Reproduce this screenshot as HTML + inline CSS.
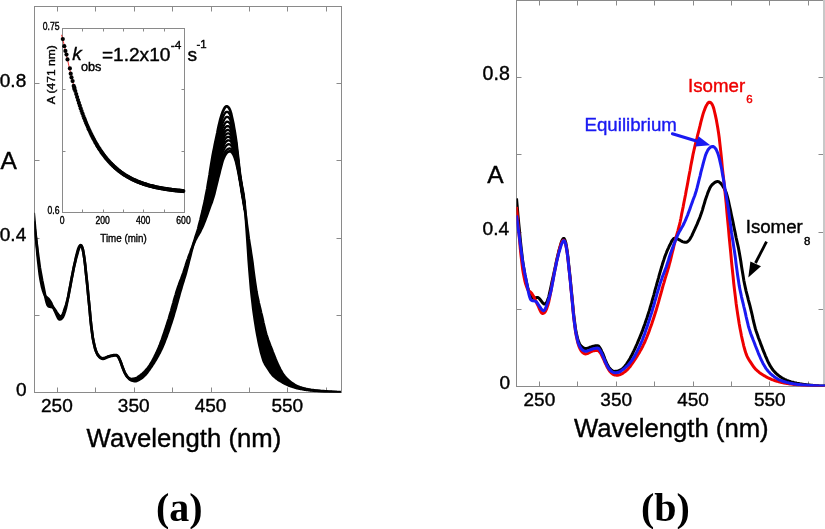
<!DOCTYPE html>
<html><head><meta charset="utf-8"><style>
html,body{margin:0;padding:0;background:#fff;width:825px;height:529px;overflow:hidden}
svg{display:block;will-change:transform}
text{font-family:"Liberation Sans",sans-serif;fill:#000;stroke:#000;stroke-width:0.4px}
.sf{font-family:"Liberation Serif",serif;font-weight:bold;stroke:none}
</style></head><body>
<svg width="825" height="529" viewBox="0 0 825 529">
<rect width="825" height="529" fill="#fff"/>
<rect x="34.5" y="6.5" width="307.0" height="386.0" fill="none" stroke="#8a8a8a" stroke-width="1"/>
<line x1="57.5" y1="392.5" x2="57.5" y2="387.5" stroke="#8a8a8a"/>
<line x1="57.5" y1="6.5" x2="57.5" y2="11.5" stroke="#8a8a8a"/>
<line x1="95.5" y1="392.5" x2="95.5" y2="387.5" stroke="#8a8a8a"/>
<line x1="95.5" y1="6.5" x2="95.5" y2="11.5" stroke="#8a8a8a"/>
<line x1="134.5" y1="392.5" x2="134.5" y2="387.5" stroke="#8a8a8a"/>
<line x1="134.5" y1="6.5" x2="134.5" y2="11.5" stroke="#8a8a8a"/>
<line x1="172.5" y1="392.5" x2="172.5" y2="387.5" stroke="#8a8a8a"/>
<line x1="172.5" y1="6.5" x2="172.5" y2="11.5" stroke="#8a8a8a"/>
<line x1="211.5" y1="392.5" x2="211.5" y2="387.5" stroke="#8a8a8a"/>
<line x1="211.5" y1="6.5" x2="211.5" y2="11.5" stroke="#8a8a8a"/>
<line x1="249.5" y1="392.5" x2="249.5" y2="387.5" stroke="#8a8a8a"/>
<line x1="249.5" y1="6.5" x2="249.5" y2="11.5" stroke="#8a8a8a"/>
<line x1="287.5" y1="392.5" x2="287.5" y2="387.5" stroke="#8a8a8a"/>
<line x1="287.5" y1="6.5" x2="287.5" y2="11.5" stroke="#8a8a8a"/>
<line x1="326.5" y1="392.5" x2="326.5" y2="387.5" stroke="#8a8a8a"/>
<line x1="326.5" y1="6.5" x2="326.5" y2="11.5" stroke="#8a8a8a"/>
<line x1="34.5" y1="315.5" x2="39.5" y2="315.5" stroke="#8a8a8a"/>
<line x1="341.5" y1="315.5" x2="336.5" y2="315.5" stroke="#8a8a8a"/>
<line x1="34.5" y1="238.5" x2="39.5" y2="238.5" stroke="#8a8a8a"/>
<line x1="341.5" y1="238.5" x2="336.5" y2="238.5" stroke="#8a8a8a"/>
<line x1="34.5" y1="160.5" x2="39.5" y2="160.5" stroke="#8a8a8a"/>
<line x1="341.5" y1="160.5" x2="336.5" y2="160.5" stroke="#8a8a8a"/>
<line x1="34.5" y1="83.5" x2="39.5" y2="83.5" stroke="#8a8a8a"/>
<line x1="341.5" y1="83.5" x2="336.5" y2="83.5" stroke="#8a8a8a"/>
<clipPath id="cl"><rect x="34.5" y="6.25" width="307.2" height="386.25"/></clipPath>
<g clip-path="url(#cl)" fill="none" stroke="#000" stroke-width="2.3" stroke-linejoin="round">
<path fill="#000" stroke="none" d="M33.7 212.9 L34.5 221.3 L35.2 229.7 L36.0 238.1 L36.8 246.6 L37.5 254.8 L38.3 262.4 L39.1 269.1 L39.8 274.9 L40.6 279.8 L41.4 283.8 L42.1 287.1 L42.9 290.0 L43.7 292.4 L44.5 294.4 L45.2 295.8 L46.0 296.8 L46.8 297.4 L47.5 298.0 L48.3 298.7 L49.1 299.6 L49.8 300.7 L50.6 302.0 L51.4 303.5 L52.1 305.1 L52.9 306.7 L53.7 308.4 L54.4 310.1 L55.2 311.7 L56.0 313.4 L56.7 315.1 L57.5 316.8 L58.3 318.3 L59.0 319.2 L59.8 319.5 L60.6 319.3 L61.3 318.9 L62.1 318.1 L62.9 316.9 L63.7 315.2 L64.4 313.1 L65.2 310.7 L66.0 307.8 L66.7 304.4 L67.5 300.5 L68.3 296.3 L69.0 292.1 L69.8 288.0 L70.6 283.9 L71.3 279.9 L72.1 275.9 L72.9 272.0 L73.6 268.2 L74.4 264.5 L75.2 261.0 L75.9 257.5 L76.7 254.3 L77.5 251.4 L78.2 248.9 L79.0 247.0 L79.8 245.7 L80.5 245.1 L81.3 245.5 L82.1 247.1 L82.9 249.8 L83.6 253.7 L84.4 258.9 L85.2 265.3 L85.9 272.3 L86.7 279.6 L87.5 287.1 L88.2 294.9 L89.0 302.9 L89.8 311.1 L90.5 319.2 L91.3 326.6 L92.1 332.8 L92.8 338.0 L93.6 342.2 L94.4 345.8 L95.1 348.7 L95.9 351.1 L96.7 353.0 L97.4 354.5 L98.2 355.7 L99.0 356.6 L99.7 357.4 L100.5 358.0 L101.3 358.4 L102.1 358.7 L102.8 358.8 L103.6 358.8 L104.4 358.6 L105.1 358.3 L105.9 357.9 L106.7 357.6 L107.4 357.2 L108.2 356.9 L109.0 356.6 L109.7 356.4 L110.5 356.2 L111.3 356.0 L112.0 355.9 L112.8 355.7 L113.6 355.6 L114.3 355.5 L115.1 355.4 L115.9 355.5 L116.6 355.6 L117.4 356.1 L118.2 356.9 L118.9 358.1 L119.7 359.8 L120.5 361.7 L121.3 363.8 L122.0 365.9 L122.8 368.0 L123.6 370.0 L124.3 371.8 L125.1 373.4 L125.9 374.8 L126.6 376.0 L127.4 377.1 L128.2 377.9 L128.9 378.7 L129.7 379.3 L130.5 379.9 L131.2 380.3 L132.0 380.6 L132.8 380.8 L133.5 381.0 L134.3 381.1 L135.1 381.1 L135.8 381.1 L136.6 380.9 L137.4 380.6 L138.1 380.2 L138.9 379.8 L139.7 379.3 L140.5 378.9 L141.2 378.4 L142.0 377.8 L142.8 377.2 L143.5 376.5 L144.3 375.8 L145.1 375.1 L145.8 374.2 L146.6 373.3 L147.4 372.4 L148.1 371.3 L148.9 370.2 L149.7 369.1 L150.4 368.0 L151.2 366.9 L152.0 365.7 L152.7 364.6 L153.5 363.4 L154.3 362.2 L155.0 360.9 L155.8 359.7 L156.6 358.4 L157.3 357.0 L158.1 355.7 L158.9 354.2 L159.7 352.8 L160.4 351.2 L161.2 349.6 L162.0 348.0 L162.7 346.2 L163.5 344.4 L164.3 342.5 L165.0 340.6 L165.8 338.6 L166.6 336.5 L167.3 334.3 L168.1 332.2 L168.9 330.0 L169.6 327.7 L170.4 325.4 L171.2 323.1 L171.9 320.8 L172.7 318.3 L173.5 315.8 L174.2 313.2 L175.0 310.6 L175.8 307.9 L176.5 305.1 L177.3 302.3 L178.1 299.5 L178.9 296.7 L179.6 294.0 L180.4 291.2 L181.2 288.6 L181.9 286.0 L182.7 283.4 L183.5 281.0 L184.2 278.5 L185.0 276.0 L185.8 273.3 L186.5 270.6 L187.3 267.6 L188.1 264.6 L188.8 261.6 L189.6 258.6 L190.4 255.6 L191.1 252.6 L191.9 249.6 L192.7 246.7 L193.4 243.9 L194.2 241.3 L195.0 238.8 L195.7 236.5 L196.5 234.2 L197.3 231.8 L198.1 229.1 L198.8 226.2 L199.6 223.2 L200.4 220.1 L201.1 217.0 L201.9 213.9 L202.7 210.7 L203.4 207.4 L204.2 204.0 L205.0 200.4 L205.7 196.6 L206.5 192.6 L207.3 188.4 L208.0 184.0 L208.8 179.4 L209.6 174.7 L210.3 169.9 L211.1 165.0 L211.9 160.3 L212.6 155.9 L213.4 151.8 L214.2 147.9 L214.9 144.2 L215.7 140.5 L216.5 136.8 L216.5 184.7 L215.7 187.9 L214.9 191.1 L214.2 194.1 L213.4 196.9 L212.6 199.4 L211.9 201.7 L211.1 203.8 L210.3 205.8 L209.6 207.8 L208.8 210.0 L208.0 212.2 L207.3 214.3 L206.5 216.5 L205.7 218.6 L205.0 220.6 L204.2 222.5 L203.4 224.4 L202.7 226.2 L201.9 227.9 L201.1 229.5 L200.4 231.0 L199.6 232.5 L198.8 233.8 L198.1 235.1 L197.3 236.4 L196.5 237.8 L195.7 239.3 L195.0 240.8 L194.2 242.6 L193.4 244.4 L192.7 246.3 L191.9 248.3 L191.1 250.3 L190.4 252.4 L189.6 254.4 L188.8 256.5 L188.1 258.6 L187.3 260.8 L186.5 263.1 L185.8 265.5 L185.0 268.0 L184.2 270.4 L183.5 272.7 L182.7 274.8 L181.9 276.9 L181.2 278.9 L180.4 280.8 L179.6 282.9 L178.9 285.0 L178.1 287.2 L177.3 289.6 L176.5 292.0 L175.8 294.6 L175.0 297.2 L174.2 299.9 L173.5 302.6 L172.7 305.4 L171.9 308.1 L171.2 310.8 L170.4 313.4 L169.6 316.0 L168.9 318.6 L168.1 321.0 L167.3 323.4 L166.6 325.8 L165.8 328.1 L165.0 330.5 L164.3 332.8 L163.5 335.0 L162.7 337.3 L162.0 339.5 L161.2 341.6 L160.4 343.6 L159.7 345.6 L158.9 347.5 L158.1 349.3 L157.3 351.0 L156.6 352.7 L155.8 354.3 L155.0 355.9 L154.3 357.4 L153.5 358.9 L152.7 360.4 L152.0 361.8 L151.2 363.1 L150.4 364.3 L149.7 365.5 L148.9 366.6 L148.1 367.7 L147.4 368.6 L146.6 369.5 L145.8 370.4 L145.1 371.2 L144.3 372.0 L143.5 372.7 L142.8 373.4 L142.0 374.1 L141.2 374.7 L140.5 375.3 L139.7 375.9 L138.9 376.5 L138.1 377.0 L137.4 377.6 L136.6 378.0 L135.8 378.4 L135.1 378.6 L134.3 378.7 L133.5 378.8 L132.8 378.9 L132.0 379.0 L131.2 379.0 L130.5 378.9 L129.7 378.6 L128.9 378.1 L128.2 377.4 L127.4 376.7 L126.6 375.7 L125.9 374.5 L125.1 373.1 L124.3 371.6 L123.6 369.8 L122.8 367.7 L122.0 365.6 L121.3 363.4 L120.5 361.3 L119.7 359.4 L118.9 357.7 L118.2 356.4 L117.4 355.6 L116.6 355.1 L115.9 355.0 L115.1 355.0 L114.3 355.1 L113.6 355.2 L112.8 355.3 L112.0 355.5 L111.3 355.6 L110.5 355.8 L109.7 356.0 L109.0 356.2 L108.2 356.4 L107.4 356.8 L106.7 357.1 L105.9 357.4 L105.1 357.8 L104.4 358.1 L103.6 358.2 L102.8 358.3 L102.1 358.2 L101.3 357.9 L100.5 357.5 L99.7 356.9 L99.0 356.1 L98.2 355.2 L97.4 354.0 L96.7 352.6 L95.9 350.7 L95.1 348.3 L94.4 345.3 L93.6 341.7 L92.8 337.5 L92.1 332.4 L91.3 326.4 L90.5 319.2 L89.8 311.2 L89.0 302.9 L88.2 294.8 L87.5 287.1 L86.7 279.5 L85.9 272.2 L85.2 265.1 L84.4 258.8 L83.6 253.6 L82.9 249.7 L82.1 247.1 L81.3 245.7 L80.5 245.7 L79.8 246.7 L79.0 248.4 L78.2 250.7 L77.5 253.3 L76.7 256.1 L75.9 259.0 L75.2 262.0 L74.4 265.3 L73.6 268.8 L72.9 272.5 L72.1 276.4 L71.3 280.4 L70.6 284.6 L69.8 288.8 L69.0 292.9 L68.3 296.5 L67.5 299.7 L66.7 302.5 L66.0 305.1 L65.2 307.4 L64.4 309.7 L63.7 311.9 L62.9 314.0 L62.1 315.6 L61.3 316.5 L60.6 316.7 L59.8 316.3 L59.0 315.5 L58.3 314.6 L57.5 313.5 L56.7 312.5 L56.0 311.3 L55.2 310.1 L54.4 308.9 L53.7 308.0 L52.9 307.4 L52.1 307.1 L51.4 306.9 L50.6 306.8 L49.8 306.7 L49.1 306.5 L48.3 306.0 L47.5 304.9 L46.8 302.8 L46.0 299.8 L45.2 296.1 L44.5 292.1 L43.7 288.0 L42.9 284.1 L42.1 280.2 L41.4 276.3 L40.6 272.1 L39.8 267.4 L39.1 262.1 L38.3 256.4 L37.5 250.4 L36.8 244.5 L36.0 238.6 L35.2 232.9 L34.5 227.1 L33.7 221.4 Z M239.5 170.2 L240.3 176.1 L241.1 181.1 L241.8 185.4 L242.6 189.5 L243.4 193.9 L244.1 199.3 L244.9 206.4 L245.7 215.4 L246.4 226.0 L247.2 237.5 L248.0 249.1 L248.7 260.2 L249.5 270.7 L250.3 280.1 L251.0 288.5 L251.8 296.0 L252.6 302.8 L253.3 309.1 L254.1 314.9 L254.9 320.3 L255.7 325.2 L256.4 329.8 L257.2 334.2 L258.0 338.2 L258.7 342.0 L259.5 345.6 L260.3 349.0 L261.0 352.1 L261.8 355.0 L262.6 357.7 L263.3 359.9 L264.1 361.9 L264.9 363.5 L265.6 364.8 L266.4 366.1 L267.2 367.3 L267.9 368.4 L268.7 369.6 L269.5 370.8 L270.2 371.9 L271.0 373.0 L271.8 374.0 L272.5 374.9 L273.3 375.7 L274.1 376.4 L274.9 377.1 L275.6 377.7 L276.4 378.4 L277.2 378.9 L277.9 379.5 L278.7 380.0 L279.5 380.5 L280.2 381.0 L281.0 381.4 L281.8 381.9 L282.5 382.3 L283.3 382.8 L284.1 383.2 L284.8 383.6 L285.6 384.0 L286.4 384.3 L287.1 384.7 L287.9 385.0 L288.7 385.4 L289.4 385.7 L290.2 385.9 L291.0 386.2 L291.7 386.5 L292.5 386.7 L293.3 387.0 L294.1 387.2 L294.8 387.4 L295.6 387.7 L296.4 387.9 L297.1 388.1 L297.9 388.3 L298.7 388.4 L299.4 388.6 L300.2 388.8 L301.0 388.9 L301.7 389.0 L302.5 389.2 L303.3 389.3 L304.0 389.4 L304.8 389.6 L305.6 389.7 L306.3 389.8 L307.1 389.9 L307.9 390.0 L308.6 390.1 L309.4 390.2 L310.2 390.3 L310.9 390.4 L311.7 390.4 L312.5 390.5 L313.3 390.6 L314.0 390.7 L314.8 390.8 L315.6 390.9 L316.3 390.9 L317.1 391.0 L317.9 391.1 L318.6 391.2 L319.4 391.2 L320.2 391.3 L320.9 391.4 L321.7 391.4 L322.5 391.5 L323.2 391.6 L324.0 391.6 L324.8 391.7 L325.5 391.7 L326.3 391.8 L327.1 391.8 L327.8 391.9 L328.6 391.9 L329.4 392.0 L330.1 392.0 L330.9 392.1 L331.7 392.1 L332.5 392.1 L333.2 392.2 L334.0 392.2 L334.8 392.3 L335.5 392.3 L336.3 392.3 L337.1 392.4 L337.8 392.4 L338.6 392.4 L339.4 392.5 L340.1 392.5 L340.9 392.5 L340.9 392.1 L340.1 392.1 L339.4 392.1 L338.6 392.0 L337.8 392.0 L337.1 392.0 L336.3 391.9 L335.5 391.9 L334.8 391.9 L334.0 391.8 L333.2 391.8 L332.5 391.8 L331.7 391.7 L330.9 391.7 L330.1 391.6 L329.4 391.6 L328.6 391.5 L327.8 391.5 L327.1 391.4 L326.3 391.4 L325.5 391.3 L324.8 391.3 L324.0 391.2 L323.2 391.2 L322.5 391.1 L321.7 391.1 L320.9 391.0 L320.2 390.9 L319.4 390.9 L318.6 390.8 L317.9 390.7 L317.1 390.6 L316.3 390.6 L315.6 390.5 L314.8 390.4 L314.0 390.3 L313.3 390.2 L312.5 390.1 L311.7 390.0 L310.9 389.9 L310.2 389.7 L309.4 389.6 L308.6 389.5 L307.9 389.3 L307.1 389.2 L306.3 389.0 L305.6 388.8 L304.8 388.6 L304.0 388.4 L303.3 388.2 L302.5 388.0 L301.7 387.8 L301.0 387.5 L300.2 387.3 L299.4 387.0 L298.7 386.7 L297.9 386.4 L297.1 386.1 L296.4 385.8 L295.6 385.4 L294.8 385.0 L294.1 384.5 L293.3 384.0 L292.5 383.5 L291.7 383.0 L291.0 382.4 L290.2 381.8 L289.4 381.2 L288.7 380.5 L287.9 379.8 L287.1 379.1 L286.4 378.3 L285.6 377.5 L284.8 376.6 L284.1 375.6 L283.3 374.6 L282.5 373.4 L281.8 372.1 L281.0 370.8 L280.2 369.4 L279.5 367.9 L278.7 366.3 L277.9 364.7 L277.2 363.0 L276.4 361.2 L275.6 359.3 L274.9 357.4 L274.1 355.5 L273.3 353.5 L272.5 351.5 L271.8 349.5 L271.0 347.5 L270.2 345.5 L269.5 343.6 L268.7 341.6 L267.9 339.5 L267.2 337.3 L266.4 334.9 L265.6 332.2 L264.9 329.1 L264.1 325.9 L263.3 322.5 L262.6 319.1 L261.8 315.7 L261.0 312.5 L260.3 309.3 L259.5 306.1 L258.7 302.8 L258.0 299.4 L257.2 295.7 L256.4 291.6 L255.7 286.9 L254.9 281.7 L254.1 275.9 L253.3 269.8 L252.6 263.8 L251.8 258.2 L251.0 253.1 L250.3 248.2 L249.5 243.4 L248.7 238.2 L248.0 232.8 L247.2 227.0 L246.4 221.1 L245.7 215.4 L244.9 210.3 L244.1 205.7 L243.4 201.3 L242.6 196.9 L241.8 192.2 L241.1 187.5 L240.3 182.8 L239.5 178.3 Z"/>
<path stroke-width="2.7" d="M33.7 212.9 L34.5 221.3 L35.2 229.7 L36.0 238.1 L36.8 246.6 L37.5 254.8 L38.3 262.4 L39.1 269.1 L39.8 274.9 L40.6 279.8 L41.4 283.8 L42.1 287.1 L42.9 290.0 L43.7 292.4 L44.5 294.4 L45.2 295.8 L46.0 296.8 L46.8 297.4 L47.5 298.0 L48.3 298.7 L49.1 299.6 L49.8 300.7 L50.6 302.0 L51.4 303.5 L52.1 305.1 L52.9 306.7 L53.7 308.4 L54.4 310.1 L55.2 311.7 L56.0 313.4 L56.7 315.1 L57.5 316.8 L58.3 318.3 L59.0 319.2 L59.8 319.5 L60.6 319.3 L61.3 318.9 L62.1 318.1 L62.9 316.9 L63.7 315.2 L64.4 313.1 L65.2 310.7 L66.0 307.8 L66.7 304.4 L67.5 300.5 L68.3 296.3 L69.0 292.1 L69.8 288.0 L70.6 283.9 L71.3 279.9 L72.1 275.9 L72.9 272.0 L73.6 268.2 L74.4 264.5 L75.2 261.0 L75.9 257.5 L76.7 254.3 L77.5 251.4 L78.2 248.9 L79.0 247.0 L79.8 245.7 L80.5 245.1 L81.3 245.5 L82.1 247.1 L82.9 249.8 L83.6 253.7 L84.4 258.9 L85.2 265.3 L85.9 272.3 L86.7 279.6 L87.5 287.1 L88.2 294.9 L89.0 302.9 L89.8 311.1 L90.5 319.2 L91.3 326.6 L92.1 332.8 L92.8 338.0 L93.6 342.2 L94.4 345.8 L95.1 348.7 L95.9 351.1 L96.7 353.0 L97.4 354.5 L98.2 355.7 L99.0 356.6 L99.7 357.4 L100.5 358.0 L101.3 358.4 L102.1 358.7 L102.8 358.8 L103.6 358.8 L104.4 358.6 L105.1 358.3 L105.9 357.9 L106.7 357.6 L107.4 357.2 L108.2 356.9 L109.0 356.6 L109.7 356.4 L110.5 356.2 L111.3 356.0 L112.0 355.9 L112.8 355.7 L113.6 355.6 L114.3 355.5 L115.1 355.4 L115.9 355.5 L116.6 355.6 L117.4 356.1 L118.2 356.9 L118.9 358.1 L119.7 359.8 L120.5 361.7 L121.3 363.8 L122.0 365.9 L122.8 368.0 L123.6 370.0 L124.3 371.8 L125.1 373.4 L125.9 374.8 L126.6 376.0 L127.4 377.1 L128.2 377.9 L128.9 378.7 L129.7 379.3 L130.5 379.9 L131.2 380.3 L132.0 380.6 L132.8 380.8 L133.5 381.0 L134.3 381.1 L135.1 381.1 L135.8 381.1 L136.6 380.9 L137.4 380.6 L138.1 380.2 L138.9 379.8 L139.7 379.3 L140.5 378.9 L141.2 378.4 L142.0 377.8 L142.8 377.2 L143.5 376.5 L144.3 375.8 L145.1 375.1 L145.8 374.2 L146.6 373.3 L147.4 372.4 L148.1 371.3 L148.9 370.2 L149.7 369.1 L150.4 368.0 L151.2 366.9 L152.0 365.7 L152.7 364.6 L153.5 363.4 L154.3 362.2 L155.0 360.9 L155.8 359.7 L156.6 358.4 L157.3 357.0 L158.1 355.7 L158.9 354.2 L159.7 352.8 L160.4 351.2 L161.2 349.6 L162.0 348.0 L162.7 346.2 L163.5 344.4 L164.3 342.5 L165.0 340.6 L165.8 338.6 L166.6 336.5 L167.3 334.3 L168.1 332.2 L168.9 330.0 L169.6 327.7 L170.4 325.4 L171.2 323.1 L171.9 320.8 L172.7 318.3 L173.5 315.8 L174.2 313.2 L175.0 310.6 L175.8 307.9 L176.5 305.1 L177.3 302.3 L178.1 299.5 L178.9 296.7 L179.6 294.0 L180.4 291.2 L181.2 288.6 L181.9 286.0 L182.7 283.4 L183.5 281.0 L184.2 278.5 L185.0 276.0 L185.8 273.3 L186.5 270.6 L187.3 267.6 L188.1 264.6 L188.8 261.6 L189.6 258.6 L190.4 255.6 L191.1 252.6 L191.9 249.6 L192.7 246.7 L193.4 243.9 L194.2 241.3 L195.0 238.8 L195.7 236.5 L196.5 234.2 L197.3 231.8 L198.1 229.1 L198.8 226.2 L199.6 223.2 L200.4 220.1 L201.1 217.0 L201.9 213.9 L202.7 210.7 L203.4 207.4 L204.2 204.0 L205.0 200.4 L205.7 196.6 L206.5 192.6 L207.3 188.4 L208.0 184.0 L208.8 179.4 L209.6 174.7 L210.3 169.9 L211.1 165.0 L211.9 160.3 L212.6 155.9 L213.4 151.8 L214.2 147.9 L214.9 144.2 L215.7 140.5 L216.5 136.8 L217.3 133.0 L218.0 129.2 L218.8 125.6 L219.6 122.3 L220.3 119.3 L221.1 116.6 L221.9 114.2 L222.6 112.1 L223.4 110.3 L224.2 108.7 L224.9 107.5 L225.7 106.7 L226.5 106.3 L227.2 106.4 L228.0 106.9 L228.8 107.7 L229.5 108.9 L230.3 110.8 L231.1 113.4 L231.8 116.5 L232.6 120.0 L233.4 123.8 L234.1 128.0 L234.9 132.5 L235.7 137.6 L236.5 143.3 L237.2 149.7 L238.0 156.5 L238.8 163.6 L239.5 170.2 L240.3 176.1 L241.1 181.1 L241.8 185.4 L242.6 189.5 L243.4 193.9 L244.1 199.3 L244.9 206.4 L245.7 215.4 L246.4 226.0 L247.2 237.5 L248.0 249.1 L248.7 260.2 L249.5 270.7 L250.3 280.1 L251.0 288.5 L251.8 296.0 L252.6 302.8 L253.3 309.1 L254.1 314.9 L254.9 320.3 L255.7 325.2 L256.4 329.8 L257.2 334.2 L258.0 338.2 L258.7 342.0 L259.5 345.6 L260.3 349.0 L261.0 352.1 L261.8 355.0 L262.6 357.7 L263.3 359.9 L264.1 361.9 L264.9 363.5 L265.6 364.8 L266.4 366.1 L267.2 367.3 L267.9 368.4 L268.7 369.6 L269.5 370.8 L270.2 371.9 L271.0 373.0 L271.8 374.0 L272.5 374.9 L273.3 375.7 L274.1 376.4 L274.9 377.1 L275.6 377.7 L276.4 378.4 L277.2 378.9 L277.9 379.5 L278.7 380.0 L279.5 380.5 L280.2 381.0 L281.0 381.4 L281.8 381.9 L282.5 382.3 L283.3 382.8 L284.1 383.2 L284.8 383.6 L285.6 384.0 L286.4 384.3 L287.1 384.7 L287.9 385.0 L288.7 385.4 L289.4 385.7 L290.2 385.9 L291.0 386.2 L291.7 386.5 L292.5 386.7 L293.3 387.0 L294.1 387.2 L294.8 387.4 L295.6 387.7 L296.4 387.9 L297.1 388.1 L297.9 388.3 L298.7 388.4 L299.4 388.6 L300.2 388.8 L301.0 388.9 L301.7 389.0 L302.5 389.2 L303.3 389.3 L304.0 389.4 L304.8 389.6 L305.6 389.7 L306.3 389.8 L307.1 389.9 L307.9 390.0 L308.6 390.1 L309.4 390.2 L310.2 390.3 L310.9 390.4 L311.7 390.4 L312.5 390.5 L313.3 390.6 L314.0 390.7 L314.8 390.8 L315.6 390.9 L316.3 390.9 L317.1 391.0 L317.9 391.1 L318.6 391.2 L319.4 391.2 L320.2 391.3 L320.9 391.4 L321.7 391.4 L322.5 391.5 L323.2 391.6 L324.0 391.6 L324.8 391.7 L325.5 391.7 L326.3 391.8 L327.1 391.8 L327.8 391.9 L328.6 391.9 L329.4 392.0 L330.1 392.0 L330.9 392.1 L331.7 392.1 L332.5 392.1 L333.2 392.2 L334.0 392.2 L334.8 392.3 L335.5 392.3 L336.3 392.3 L337.1 392.4 L337.8 392.4 L338.6 392.4 L339.4 392.5 L340.1 392.5 L340.9 392.5"/>
<path d="M211.1 169.6 L211.9 165.2 L212.6 161.1 L213.4 157.2 L214.2 153.4 L214.9 149.8 L215.7 146.2 L216.5 142.5 L217.3 138.8 L218.0 135.1 L218.8 131.5 L219.6 128.2 L220.3 125.2 L221.1 122.5 L221.9 120.0 L222.6 117.9 L223.4 116.0 L224.2 114.5 L224.9 113.2 L225.7 112.3 L226.5 111.9 L227.2 111.9 L228.0 112.2 L228.8 112.9 L229.5 114.0 L230.3 115.6 L231.1 117.9 L231.8 120.8 L232.6 124.0 L233.4 127.5 L234.1 131.3 L234.9 135.6 L235.7 140.4 L236.5 145.7 L237.2 151.7 L238.0 158.2 L238.8 164.8 L239.5 171.2 L240.3 176.9 L241.1 181.9 L241.8 186.3 L242.6 190.4 L243.4 194.8 L244.1 200.1 L244.9 206.9"/>
<path d="M211.1 173.8 L211.9 169.7 L212.6 165.8 L213.4 162.0 L214.2 158.4 L214.9 154.8 L215.7 151.3 L216.5 147.7 L217.3 144.0 L218.0 140.4 L218.8 136.9 L219.6 133.6 L220.3 130.6 L221.1 127.9 L221.9 125.4 L222.6 123.1 L223.4 121.3 L224.2 119.7 L224.9 118.4 L225.7 117.5 L226.5 116.9 L227.2 116.8 L228.0 117.1 L228.8 117.6 L229.5 118.5 L230.3 120.0 L231.1 122.1 L231.8 124.6 L232.6 127.5 L233.4 130.8 L234.1 134.3 L234.9 138.3 L235.7 142.8 L236.5 147.9 L237.2 153.6 L238.0 159.7 L238.8 166.0 L239.5 172.1 L240.3 177.6 L241.1 182.6 L241.8 187.0 L242.6 191.2 L243.4 195.6 L244.1 200.8 L244.9 207.3"/>
<path d="M211.1 177.9 L211.9 174.0 L212.6 170.3 L213.4 166.8 L214.2 163.3 L214.9 159.8 L215.7 156.3 L216.5 152.7 L217.3 149.1 L218.0 145.5 L218.8 142.1 L219.6 138.9 L220.3 135.9 L221.1 133.1 L221.9 130.5 L222.6 128.3 L223.4 126.4 L224.2 124.7 L224.9 123.4 L225.7 122.4 L226.5 121.9 L227.2 121.7 L228.0 121.8 L228.8 122.2 L229.5 123.0 L230.3 124.2 L231.1 126.1 L231.8 128.4 L232.6 131.0 L233.4 134.0 L234.1 137.3 L234.9 141.0 L235.7 145.2 L236.5 150.0 L237.2 155.3 L238.0 161.1 L238.8 167.1 L239.5 172.9 L240.3 178.3 L241.1 183.2 L241.8 187.7 L242.6 192.0 L243.4 196.4 L244.1 201.5 L244.9 207.7"/>
<path d="M211.1 181.6 L211.9 178.0 L212.6 174.5 L213.4 171.1 L214.2 167.7 L214.9 164.3 L215.7 160.8 L216.5 157.3 L217.3 153.8 L218.0 150.3 L218.8 146.9 L219.6 143.7 L220.3 140.7 L221.1 137.9 L221.9 135.3 L222.6 133.0 L223.4 131.0 L224.2 129.4 L224.9 128.0 L225.7 127.0 L226.5 126.4 L227.2 126.1 L228.0 126.1 L228.8 126.4 L229.5 127.0 L230.3 128.1 L231.1 129.8 L231.8 131.8 L232.6 134.2 L233.4 136.9 L234.1 140.0 L234.9 143.4 L235.7 147.4 L236.5 151.9 L237.2 157.0 L238.0 162.4 L238.8 168.1 L239.5 173.7 L240.3 179.0 L241.1 183.8 L241.8 188.4 L242.6 192.7 L243.4 197.1 L244.1 202.1 L244.9 208.1"/>
<path d="M211.1 184.8 L211.9 181.4 L212.6 178.1 L213.4 174.8 L214.2 171.5 L214.9 168.2 L215.7 164.7 L216.5 161.3 L217.3 157.8 L218.0 154.3 L218.8 151.0 L219.6 147.8 L220.3 144.8 L221.1 142.0 L221.9 139.4 L222.6 137.0 L223.4 135.0 L224.2 133.4 L224.9 132.0 L225.7 131.0 L226.5 130.3 L227.2 129.9 L228.0 129.9 L228.8 130.1 L229.5 130.6 L230.3 131.5 L231.1 132.9 L231.8 134.8 L232.6 137.0 L233.4 139.5 L234.1 142.3 L234.9 145.6 L235.7 149.3 L236.5 153.6 L237.2 158.4 L238.0 163.6 L238.8 169.0 L239.5 174.4 L240.3 179.5 L241.1 184.4 L241.8 188.9 L242.6 193.3 L243.4 197.7 L244.1 202.6 L244.9 208.4"/>
<path d="M211.1 187.8 L211.9 184.6 L212.6 181.5 L213.4 178.3 L214.2 175.1 L214.9 171.8 L215.7 168.4 L216.5 165.0 L217.3 161.5 L218.0 158.1 L218.8 154.9 L219.6 151.7 L220.3 148.7 L221.1 145.8 L221.9 143.2 L222.6 140.8 L223.4 138.8 L224.2 137.1 L224.9 135.7 L225.7 134.6 L226.5 133.9 L227.2 133.5 L228.0 133.3 L228.8 133.4 L229.5 133.8 L230.3 134.6 L231.1 135.9 L231.8 137.6 L232.6 139.5 L233.4 141.8 L234.1 144.5 L234.9 147.5 L235.7 151.1 L236.5 155.1 L237.2 159.7 L238.0 164.6 L238.8 169.8 L239.5 175.0 L240.3 180.0 L241.1 184.9 L241.8 189.4 L242.6 193.9 L243.4 198.3 L244.1 203.1 L244.9 208.7"/>
<path d="M211.1 190.8 L211.9 187.9 L212.6 184.9 L213.4 181.8 L214.2 178.7 L214.9 175.4 L215.7 172.1 L216.5 168.7 L217.3 165.3 L218.0 162.0 L218.8 158.7 L219.6 155.6 L220.3 152.6 L221.1 149.7 L221.9 147.0 L222.6 144.6 L223.4 142.6 L224.2 140.8 L224.9 139.4 L225.7 138.3 L226.5 137.5 L227.2 137.1 L228.0 136.9 L228.8 136.9 L229.5 137.1 L230.3 137.8 L231.1 138.9 L231.8 140.3 L232.6 142.1 L233.4 144.2 L234.1 146.6 L234.9 149.5 L235.7 152.8 L236.5 156.7 L237.2 161.0 L238.0 165.7 L238.8 170.6 L239.5 175.6 L240.3 180.6 L241.1 185.4 L241.8 190.0 L242.6 194.4 L243.4 198.9 L244.1 203.6 L244.9 209.0"/>
<path d="M211.1 193.8 L211.9 191.1 L212.6 188.3 L213.4 185.4 L214.2 182.3 L214.9 179.1 L215.7 175.8 L216.5 172.4 L217.3 169.1 L218.0 165.8 L218.8 162.6 L219.6 159.5 L220.3 156.5 L221.1 153.6 L221.9 150.8 L222.6 148.4 L223.4 146.3 L224.2 144.6 L224.9 143.2 L225.7 142.0 L226.5 141.2 L227.2 140.7 L228.0 140.4 L228.8 140.3 L229.5 140.4 L230.3 140.9 L231.1 141.8 L231.8 143.1 L232.6 144.7 L233.4 146.6 L234.1 148.8 L234.9 151.5 L235.7 154.6 L236.5 158.3 L237.2 162.4 L238.0 166.8 L238.8 171.5 L239.5 176.3 L240.3 181.1 L241.1 185.9 L241.8 190.5 L242.6 195.0 L243.4 199.4 L244.1 204.1 L244.9 209.3"/>
<path d="M211.1 197.3 L211.9 194.8 L212.6 192.2 L213.4 189.4 L214.2 186.5 L214.9 183.3 L215.7 180.1 L216.5 176.7 L217.3 173.5 L218.0 170.2 L218.8 167.1 L219.6 164.0 L220.3 161.0 L221.1 158.0 L221.9 155.3 L222.6 152.8 L223.4 150.7 L224.2 148.9 L224.9 147.5 L225.7 146.3 L226.5 145.4 L227.2 144.8 L228.0 144.4 L228.8 144.2 L229.5 144.3 L230.3 144.6 L231.1 145.3 L231.8 146.4 L232.6 147.7 L233.4 149.4 L234.1 151.4 L234.9 153.8 L235.7 156.7 L236.5 160.1 L237.2 163.9 L238.0 168.0 L238.8 172.4 L239.5 177.0 L240.3 181.7 L241.1 186.4 L241.8 191.1 L242.6 195.7 L243.4 200.1 L244.1 204.6 L244.9 209.7"/>
<path d="M211.1 201.2 L211.9 198.9 L212.6 196.5 L213.4 193.9 L214.2 191.0 L214.9 188.0 L215.7 184.8 L216.5 181.5 L217.3 178.3 L218.0 175.1 L218.8 172.0 L219.6 168.9 L220.3 165.9 L221.1 162.9 L221.9 160.2 L222.6 157.7 L223.4 155.5 L224.2 153.7 L224.9 152.2 L225.7 151.0 L226.5 150.1 L227.2 149.4 L228.0 148.9 L228.8 148.6 L229.5 148.5 L230.3 148.6 L231.1 149.1 L231.8 149.9 L232.6 151.0 L233.4 152.4 L234.1 154.1 L234.9 156.3 L235.7 158.9 L236.5 162.0 L237.2 165.6 L238.0 169.4 L238.8 173.5 L239.5 177.8 L240.3 182.3 L241.1 187.1 L241.8 191.8 L242.6 196.4 L243.4 200.8 L244.1 205.3 L244.9 210.0"/>
<path stroke-width="2.7" d="M33.7 221.4 L34.5 227.1 L35.2 232.9 L36.0 238.6 L36.8 244.5 L37.5 250.4 L38.3 256.4 L39.1 262.1 L39.8 267.4 L40.6 272.1 L41.4 276.3 L42.1 280.2 L42.9 284.1 L43.7 288.0 L44.5 292.1 L45.2 296.1 L46.0 299.8 L46.8 302.8 L47.5 304.9 L48.3 306.0 L49.1 306.5 L49.8 306.7 L50.6 306.8 L51.4 306.9 L52.1 307.1 L52.9 307.4 L53.7 308.0 L54.4 308.9 L55.2 310.1 L56.0 311.3 L56.7 312.5 L57.5 313.5 L58.3 314.6 L59.0 315.5 L59.8 316.3 L60.6 316.7 L61.3 316.5 L62.1 315.6 L62.9 314.0 L63.7 311.9 L64.4 309.7 L65.2 307.4 L66.0 305.1 L66.7 302.5 L67.5 299.7 L68.3 296.5 L69.0 292.9 L69.8 288.8 L70.6 284.6 L71.3 280.4 L72.1 276.4 L72.9 272.5 L73.6 268.8 L74.4 265.3 L75.2 262.0 L75.9 259.0 L76.7 256.1 L77.5 253.3 L78.2 250.7 L79.0 248.4 L79.8 246.7 L80.5 245.7 L81.3 245.7 L82.1 247.1 L82.9 249.7 L83.6 253.6 L84.4 258.8 L85.2 265.1 L85.9 272.2 L86.7 279.5 L87.5 287.1 L88.2 294.8 L89.0 302.9 L89.8 311.2 L90.5 319.2 L91.3 326.4 L92.1 332.4 L92.8 337.5 L93.6 341.7 L94.4 345.3 L95.1 348.3 L95.9 350.7 L96.7 352.6 L97.4 354.0 L98.2 355.2 L99.0 356.1 L99.7 356.9 L100.5 357.5 L101.3 357.9 L102.1 358.2 L102.8 358.3 L103.6 358.2 L104.4 358.1 L105.1 357.8 L105.9 357.4 L106.7 357.1 L107.4 356.8 L108.2 356.4 L109.0 356.2 L109.7 356.0 L110.5 355.8 L111.3 355.6 L112.0 355.5 L112.8 355.3 L113.6 355.2 L114.3 355.1 L115.1 355.0 L115.9 355.0 L116.6 355.1 L117.4 355.6 L118.2 356.4 L118.9 357.7 L119.7 359.4 L120.5 361.3 L121.3 363.4 L122.0 365.6 L122.8 367.7 L123.6 369.8 L124.3 371.6 L125.1 373.1 L125.9 374.5 L126.6 375.7 L127.4 376.7 L128.2 377.4 L128.9 378.1 L129.7 378.6 L130.5 378.9 L131.2 379.0 L132.0 379.0 L132.8 378.9 L133.5 378.8 L134.3 378.7 L135.1 378.6 L135.8 378.4 L136.6 378.0 L137.4 377.6 L138.1 377.0 L138.9 376.5 L139.7 375.9 L140.5 375.3 L141.2 374.7 L142.0 374.1 L142.8 373.4 L143.5 372.7 L144.3 372.0 L145.1 371.2 L145.8 370.4 L146.6 369.5 L147.4 368.6 L148.1 367.7 L148.9 366.6 L149.7 365.5 L150.4 364.3 L151.2 363.1 L152.0 361.8 L152.7 360.4 L153.5 358.9 L154.3 357.4 L155.0 355.9 L155.8 354.3 L156.6 352.7 L157.3 351.0 L158.1 349.3 L158.9 347.5 L159.7 345.6 L160.4 343.6 L161.2 341.6 L162.0 339.5 L162.7 337.3 L163.5 335.0 L164.3 332.8 L165.0 330.5 L165.8 328.1 L166.6 325.8 L167.3 323.4 L168.1 321.0 L168.9 318.6 L169.6 316.0 L170.4 313.4 L171.2 310.8 L171.9 308.1 L172.7 305.4 L173.5 302.6 L174.2 299.9 L175.0 297.2 L175.8 294.6 L176.5 292.0 L177.3 289.6 L178.1 287.2 L178.9 285.0 L179.6 282.9 L180.4 280.8 L181.2 278.9 L181.9 276.9 L182.7 274.8 L183.5 272.7 L184.2 270.4 L185.0 268.0 L185.8 265.5 L186.5 263.1 L187.3 260.8 L188.1 258.6 L188.8 256.5 L189.6 254.4 L190.4 252.4 L191.1 250.3 L191.9 248.3 L192.7 246.3 L193.4 244.4 L194.2 242.6 L195.0 240.8 L195.7 239.3 L196.5 237.8 L197.3 236.4 L198.1 235.1 L198.8 233.8 L199.6 232.5 L200.4 231.0 L201.1 229.5 L201.9 227.9 L202.7 226.2 L203.4 224.4 L204.2 222.5 L205.0 220.6 L205.7 218.6 L206.5 216.5 L207.3 214.3 L208.0 212.2 L208.8 210.0 L209.6 207.8 L210.3 205.8 L211.1 203.8 L211.9 201.7 L212.6 199.4 L213.4 196.9 L214.2 194.1 L214.9 191.1 L215.7 187.9 L216.5 184.7 L217.3 181.5 L218.0 178.4 L218.8 175.3 L219.6 172.3 L220.3 169.3 L221.1 166.3 L221.9 163.5 L222.6 160.9 L223.4 158.7 L224.2 156.9 L224.9 155.4 L225.7 154.2 L226.5 153.2 L227.2 152.4 L228.0 151.9 L228.8 151.5 L229.5 151.3 L230.3 151.3 L231.1 151.6 L231.8 152.3 L232.6 153.2 L233.4 154.4 L234.1 156.0 L234.9 158.0 L235.7 160.5 L236.5 163.4 L237.2 166.7 L238.0 170.3 L238.8 174.2 L239.5 178.3 L240.3 182.8 L241.1 187.5 L241.8 192.2 L242.6 196.9 L243.4 201.3 L244.1 205.7 L244.9 210.3 L245.7 215.4 L246.4 221.1 L247.2 227.0 L248.0 232.8 L248.7 238.2 L249.5 243.4 L250.3 248.2 L251.0 253.1 L251.8 258.2 L252.6 263.8 L253.3 269.8 L254.1 275.9 L254.9 281.7 L255.7 286.9 L256.4 291.6 L257.2 295.7 L258.0 299.4 L258.7 302.8 L259.5 306.1 L260.3 309.3 L261.0 312.5 L261.8 315.7 L262.6 319.1 L263.3 322.5 L264.1 325.9 L264.9 329.1 L265.6 332.2 L266.4 334.9 L267.2 337.3 L267.9 339.5 L268.7 341.6 L269.5 343.6 L270.2 345.5 L271.0 347.5 L271.8 349.5 L272.5 351.5 L273.3 353.5 L274.1 355.5 L274.9 357.4 L275.6 359.3 L276.4 361.2 L277.2 363.0 L277.9 364.7 L278.7 366.3 L279.5 367.9 L280.2 369.4 L281.0 370.8 L281.8 372.1 L282.5 373.4 L283.3 374.6 L284.1 375.6 L284.8 376.6 L285.6 377.5 L286.4 378.3 L287.1 379.1 L287.9 379.8 L288.7 380.5 L289.4 381.2 L290.2 381.8 L291.0 382.4 L291.7 383.0 L292.5 383.5 L293.3 384.0 L294.1 384.5 L294.8 385.0 L295.6 385.4 L296.4 385.8 L297.1 386.1 L297.9 386.4 L298.7 386.7 L299.4 387.0 L300.2 387.3 L301.0 387.5 L301.7 387.8 L302.5 388.0 L303.3 388.2 L304.0 388.4 L304.8 388.6 L305.6 388.8 L306.3 389.0 L307.1 389.2 L307.9 389.3 L308.6 389.5 L309.4 389.6 L310.2 389.7 L310.9 389.9 L311.7 390.0 L312.5 390.1 L313.3 390.2 L314.0 390.3 L314.8 390.4 L315.6 390.5 L316.3 390.6 L317.1 390.6 L317.9 390.7 L318.6 390.8 L319.4 390.9 L320.2 390.9 L320.9 391.0 L321.7 391.1 L322.5 391.1 L323.2 391.2 L324.0 391.2 L324.8 391.3 L325.5 391.3 L326.3 391.4 L327.1 391.4 L327.8 391.5 L328.6 391.5 L329.4 391.6 L330.1 391.6 L330.9 391.7 L331.7 391.7 L332.5 391.8 L333.2 391.8 L334.0 391.8 L334.8 391.9 L335.5 391.9 L336.3 391.9 L337.1 392.0 L337.8 392.0 L338.6 392.0 L339.4 392.1 L340.1 392.1 L340.9 392.1"/>
</g>
<rect x="516.5" y="0.5" width="307.0" height="386.0" fill="none" stroke="#8a8a8a" stroke-width="1"/>
<line x1="539.5" y1="386.5" x2="539.5" y2="381.5" stroke="#8a8a8a"/>
<line x1="539.5" y1="0.5" x2="539.5" y2="5.5" stroke="#8a8a8a"/>
<line x1="577.5" y1="386.5" x2="577.5" y2="381.5" stroke="#8a8a8a"/>
<line x1="577.5" y1="0.5" x2="577.5" y2="5.5" stroke="#8a8a8a"/>
<line x1="616.5" y1="386.5" x2="616.5" y2="381.5" stroke="#8a8a8a"/>
<line x1="616.5" y1="0.5" x2="616.5" y2="5.5" stroke="#8a8a8a"/>
<line x1="654.5" y1="386.5" x2="654.5" y2="381.5" stroke="#8a8a8a"/>
<line x1="654.5" y1="0.5" x2="654.5" y2="5.5" stroke="#8a8a8a"/>
<line x1="693.5" y1="386.5" x2="693.5" y2="381.5" stroke="#8a8a8a"/>
<line x1="693.5" y1="0.5" x2="693.5" y2="5.5" stroke="#8a8a8a"/>
<line x1="731.5" y1="386.5" x2="731.5" y2="381.5" stroke="#8a8a8a"/>
<line x1="731.5" y1="0.5" x2="731.5" y2="5.5" stroke="#8a8a8a"/>
<line x1="769.5" y1="386.5" x2="769.5" y2="381.5" stroke="#8a8a8a"/>
<line x1="769.5" y1="0.5" x2="769.5" y2="5.5" stroke="#8a8a8a"/>
<line x1="808.5" y1="386.5" x2="808.5" y2="381.5" stroke="#8a8a8a"/>
<line x1="808.5" y1="0.5" x2="808.5" y2="5.5" stroke="#8a8a8a"/>
<line x1="516.5" y1="309.5" x2="521.5" y2="309.5" stroke="#8a8a8a"/>
<line x1="823.5" y1="309.5" x2="818.5" y2="309.5" stroke="#8a8a8a"/>
<line x1="516.5" y1="232.5" x2="521.5" y2="232.5" stroke="#8a8a8a"/>
<line x1="823.5" y1="232.5" x2="818.5" y2="232.5" stroke="#8a8a8a"/>
<line x1="516.5" y1="154.5" x2="521.5" y2="154.5" stroke="#8a8a8a"/>
<line x1="823.5" y1="154.5" x2="818.5" y2="154.5" stroke="#8a8a8a"/>
<line x1="516.5" y1="77.5" x2="521.5" y2="77.5" stroke="#8a8a8a"/>
<line x1="823.5" y1="77.5" x2="818.5" y2="77.5" stroke="#8a8a8a"/>
<rect x="823" y="0" width="2" height="386.5" fill="#c8c8c8"/>
<clipPath id="cr"><rect x="516.5" y="-1.75" width="308.5" height="388.25"/></clipPath>
<g clip-path="url(#cr)" fill="none" stroke-width="3" stroke-linejoin="round">
<path stroke="#000" d="M516.5 198.4 L517.3 207.1 L518.0 215.6 L518.8 223.9 L519.6 231.9 L520.3 239.7 L521.1 247.2 L521.9 254.2 L522.6 260.3 L523.4 265.6 L524.2 270.3 L524.9 274.5 L525.7 278.4 L526.5 282.2 L527.3 285.7 L528.0 288.8 L528.8 291.5 L529.6 293.6 L530.3 295.3 L531.1 296.7 L531.9 297.7 L532.6 298.1 L533.4 298.3 L534.2 298.2 L534.9 298.0 L535.7 297.8 L536.5 297.6 L537.2 297.5 L538.0 297.6 L538.8 298.0 L539.5 298.7 L540.3 299.7 L541.1 300.7 L541.8 301.8 L542.6 302.7 L543.4 303.6 L544.1 304.1 L544.9 304.1 L545.7 303.6 L546.5 302.6 L547.2 301.1 L548.0 299.1 L548.8 296.6 L549.5 293.4 L550.3 289.8 L551.1 286.2 L551.8 282.7 L552.6 279.2 L553.4 275.7 L554.1 272.2 L554.9 268.6 L555.7 265.0 L556.4 261.4 L557.2 257.8 L558.0 254.5 L558.7 251.5 L559.5 248.6 L560.3 245.8 L561.0 243.3 L561.8 241.0 L562.6 239.3 L563.3 238.4 L564.1 238.5 L564.9 239.9 L565.7 242.4 L566.4 246.1 L567.2 251.1 L568.0 257.3 L568.7 264.3 L569.5 271.6 L570.3 279.0 L571.0 286.7 L571.8 294.7 L572.6 302.8 L573.3 310.7 L574.1 317.9 L574.9 324.0 L575.6 329.2 L576.4 333.4 L577.2 336.9 L577.9 339.8 L578.7 342.0 L579.5 343.7 L580.2 344.9 L581.0 345.8 L581.8 346.6 L582.5 347.3 L583.3 347.9 L584.1 348.3 L584.9 348.5 L585.6 348.5 L586.4 348.5 L587.2 348.3 L587.9 348.1 L588.7 347.8 L589.5 347.5 L590.2 347.2 L591.0 347.0 L591.8 346.7 L592.5 346.5 L593.3 346.3 L594.1 346.1 L594.8 346.0 L595.6 345.8 L596.4 345.7 L597.1 345.7 L597.9 345.8 L598.7 346.2 L599.4 347.1 L600.2 348.3 L601.0 349.7 L601.7 351.3 L602.5 352.9 L603.3 354.7 L604.1 356.7 L604.8 358.7 L605.6 360.7 L606.4 362.5 L607.1 364.2 L607.9 365.6 L608.7 367.0 L609.4 368.1 L610.2 369.0 L611.0 369.7 L611.7 370.3 L612.5 370.8 L613.3 371.1 L614.0 371.3 L614.8 371.4 L615.6 371.3 L616.3 371.3 L617.1 371.2 L617.9 371.0 L618.6 370.8 L619.4 370.5 L620.2 370.2 L620.9 369.7 L621.7 369.2 L622.5 368.7 L623.3 368.0 L624.0 367.2 L624.8 366.3 L625.6 365.3 L626.3 364.3 L627.1 363.1 L627.9 362.0 L628.6 360.8 L629.4 359.5 L630.2 358.2 L630.9 356.7 L631.7 355.3 L632.5 353.8 L633.2 352.2 L634.0 350.6 L634.8 348.9 L635.5 347.3 L636.3 345.5 L637.1 343.8 L637.8 342.1 L638.6 340.2 L639.4 338.4 L640.1 336.5 L640.9 334.6 L641.7 332.6 L642.5 330.6 L643.2 328.5 L644.0 326.4 L644.8 324.2 L645.5 322.0 L646.3 319.8 L647.1 317.5 L647.8 315.2 L648.6 312.8 L649.4 310.4 L650.1 307.8 L650.9 305.2 L651.7 302.5 L652.4 299.8 L653.2 297.1 L654.0 294.3 L654.7 291.5 L655.5 288.7 L656.3 285.9 L657.0 283.1 L657.8 280.4 L658.6 277.6 L659.3 274.9 L660.1 272.1 L660.9 269.4 L661.7 266.8 L662.4 264.3 L663.2 261.8 L664.0 259.4 L664.7 257.1 L665.5 255.0 L666.3 253.0 L667.0 251.1 L667.8 249.3 L668.6 247.6 L669.3 246.0 L670.1 244.5 L670.9 242.9 L671.6 241.4 L672.4 240.1 L673.2 239.1 L673.9 238.5 L674.7 238.3 L675.5 238.4 L676.2 238.5 L677.0 238.8 L677.8 239.0 L678.5 239.4 L679.3 239.8 L680.1 240.3 L680.9 240.8 L681.6 241.2 L682.4 241.6 L683.2 241.9 L683.9 242.1 L684.7 242.2 L685.5 242.3 L686.2 242.3 L687.0 242.0 L687.8 241.5 L688.5 240.8 L689.3 239.9 L690.1 238.8 L690.8 237.6 L691.6 236.1 L692.4 234.5 L693.1 232.8 L693.9 231.1 L694.7 229.4 L695.4 227.8 L696.2 226.1 L697.0 224.4 L697.7 222.6 L698.5 220.7 L699.3 218.8 L700.1 216.8 L700.8 214.8 L701.6 212.5 L702.4 210.1 L703.1 207.5 L703.9 204.9 L704.7 202.2 L705.4 199.7 L706.2 197.4 L707.0 195.2 L707.7 193.1 L708.5 191.1 L709.3 189.3 L710.0 187.7 L710.8 186.4 L711.6 185.3 L712.3 184.5 L713.1 183.8 L713.9 183.2 L714.6 182.6 L715.4 182.2 L716.2 181.8 L716.9 181.6 L717.7 181.6 L718.5 181.7 L719.3 182.1 L720.0 182.6 L720.8 183.4 L721.6 184.3 L722.3 185.3 L723.1 186.6 L723.9 187.9 L724.6 189.3 L725.4 190.8 L726.2 192.6 L726.9 194.9 L727.7 197.8 L728.5 201.1 L729.2 204.6 L730.0 208.2 L730.8 211.7 L731.5 215.2 L732.3 218.8 L733.1 222.5 L733.8 226.2 L734.6 230.1 L735.4 233.9 L736.1 237.6 L736.9 241.2 L737.7 244.6 L738.5 248.2 L739.2 252.1 L740.0 256.5 L740.8 261.2 L741.5 266.1 L742.3 271.1 L743.1 275.8 L743.8 280.2 L744.6 284.2 L745.4 287.8 L746.1 291.1 L746.9 294.2 L747.7 297.2 L748.4 300.1 L749.2 303.0 L750.0 305.9 L750.7 308.9 L751.5 312.1 L752.3 315.5 L753.0 318.9 L753.8 322.3 L754.6 325.5 L755.3 328.4 L756.1 331.0 L756.9 333.3 L757.7 335.6 L758.4 337.7 L759.2 339.8 L760.0 341.8 L760.7 343.9 L761.5 345.9 L762.3 347.9 L763.0 349.9 L763.8 351.8 L764.6 353.7 L765.3 355.6 L766.1 357.4 L766.9 359.2 L767.6 360.9 L768.4 362.5 L769.2 364.0 L769.9 365.4 L770.7 366.7 L771.5 367.9 L772.2 369.0 L773.0 370.0 L773.8 370.9 L774.5 371.8 L775.3 372.6 L776.1 373.4 L776.9 374.1 L777.6 374.8 L778.4 375.4 L779.2 376.0 L779.9 376.5 L780.7 377.1 L781.5 377.6 L782.2 378.0 L783.0 378.5 L783.8 378.9 L784.5 379.3 L785.3 379.6 L786.1 380.0 L786.8 380.3 L787.6 380.6 L788.4 380.9 L789.1 381.2 L789.9 381.4 L790.7 381.7 L791.4 381.9 L792.2 382.1 L793.0 382.3 L793.7 382.5 L794.5 382.7 L795.3 382.9 L796.1 383.0 L796.8 383.2 L797.6 383.4 L798.4 383.5 L799.1 383.6 L799.9 383.8 L800.7 383.9 L801.4 384.0 L802.2 384.2 L803.0 384.3 L803.7 384.4 L804.5 384.5 L805.3 384.6 L806.0 384.7 L806.8 384.8 L807.6 384.9 L808.3 385.0 L809.1 385.0 L809.9 385.1 L810.6 385.2 L811.4 385.3 L812.2 385.3 L812.9 385.4 L813.7 385.5 L814.5 385.5 L815.3 385.6 L816.0 385.7 L816.8 385.7 L817.6 385.8 L818.3 385.8 L819.1 385.9 L819.9 385.9 L820.6 386.0 L821.4 386.0 L822.2 386.1 L822.9 386.1 L823.7 386.1 L825.6 386.1"/>
<path stroke="#ee0000" d="M516.5 206.9 L517.3 215.3 L518.0 223.7 L518.8 232.1 L519.6 240.6 L520.3 248.8 L521.1 256.4 L521.9 263.1 L522.6 268.9 L523.4 273.8 L524.2 277.8 L524.9 281.1 L525.7 284.0 L526.5 286.4 L527.3 288.4 L528.0 289.8 L528.8 290.8 L529.6 291.4 L530.3 292.0 L531.1 292.7 L531.9 293.6 L532.6 294.7 L533.4 296.0 L534.2 297.5 L534.9 299.1 L535.7 300.7 L536.5 302.4 L537.2 304.1 L538.0 305.7 L538.8 307.4 L539.5 309.1 L540.3 310.8 L541.1 312.3 L541.8 313.2 L542.6 313.5 L543.4 313.3 L544.1 312.9 L544.9 312.1 L545.7 310.9 L546.5 309.2 L547.2 307.1 L548.0 304.7 L548.8 301.8 L549.5 298.4 L550.3 294.5 L551.1 290.3 L551.8 286.1 L552.6 282.0 L553.4 277.9 L554.1 273.9 L554.9 269.9 L555.7 266.1 L556.4 262.3 L557.2 258.7 L558.0 255.3 L558.7 252.0 L559.5 248.9 L560.3 246.2 L561.0 243.9 L561.8 242.1 L562.6 240.8 L563.3 240.2 L564.1 240.5 L564.9 241.9 L565.7 244.4 L566.4 248.1 L567.2 253.2 L568.0 259.4 L568.7 266.4 L569.5 273.6 L570.3 281.1 L571.0 288.9 L571.8 296.9 L572.6 305.1 L573.3 313.2 L574.1 320.6 L574.9 326.9 L575.6 332.2 L576.4 336.5 L577.2 340.1 L577.9 343.1 L578.7 345.6 L579.5 347.6 L580.2 349.2 L581.0 350.5 L581.8 351.6 L582.5 352.4 L583.3 353.0 L584.1 353.5 L584.9 353.8 L585.6 353.9 L586.4 353.8 L587.2 353.6 L587.9 353.3 L588.7 352.9 L589.5 352.5 L590.2 352.1 L591.0 351.7 L591.8 351.4 L592.5 351.1 L593.3 350.9 L594.1 350.7 L594.8 350.5 L595.6 350.4 L596.4 350.3 L597.1 350.4 L597.9 350.6 L598.7 351.1 L599.4 351.8 L600.2 352.7 L601.0 353.9 L601.7 355.4 L602.5 357.0 L603.3 358.7 L604.1 360.4 L604.8 362.1 L605.6 363.8 L606.4 365.3 L607.1 366.9 L607.9 368.3 L608.7 369.6 L609.4 370.7 L610.2 371.7 L611.0 372.6 L611.7 373.3 L612.5 373.9 L613.3 374.4 L614.0 374.8 L614.8 375.0 L615.6 375.1 L616.3 375.2 L617.1 375.2 L617.9 375.2 L618.6 375.1 L619.4 374.9 L620.2 374.6 L620.9 374.2 L621.7 373.8 L622.5 373.4 L623.3 372.9 L624.0 372.4 L624.8 371.8 L625.6 371.2 L626.3 370.5 L627.1 369.8 L627.9 369.1 L628.6 368.2 L629.4 367.3 L630.2 366.4 L630.9 365.3 L631.7 364.2 L632.5 363.1 L633.2 362.0 L634.0 360.9 L634.8 359.7 L635.5 358.6 L636.3 357.4 L637.1 356.2 L637.8 354.9 L638.6 353.7 L639.4 352.4 L640.1 351.0 L640.9 349.7 L641.7 348.2 L642.5 346.8 L643.2 345.2 L644.0 343.6 L644.8 342.0 L645.5 340.2 L646.3 338.4 L647.1 336.5 L647.8 334.6 L648.6 332.6 L649.4 330.5 L650.1 328.3 L650.9 326.2 L651.7 324.0 L652.4 321.7 L653.2 319.4 L654.0 317.1 L654.7 314.8 L655.5 312.3 L656.3 309.8 L657.0 307.2 L657.8 304.6 L658.6 301.9 L659.3 299.1 L660.1 296.3 L660.9 293.5 L661.7 290.7 L662.4 288.0 L663.2 285.2 L664.0 282.6 L664.7 280.0 L665.5 277.4 L666.3 274.9 L667.0 272.5 L667.8 269.9 L668.6 267.3 L669.3 264.5 L670.1 261.5 L670.9 258.4 L671.6 255.3 L672.4 252.2 L673.2 249.1 L673.9 246.0 L674.7 242.9 L675.5 239.7 L676.2 236.7 L677.0 233.8 L677.8 231.1 L678.5 228.4 L679.3 225.5 L680.1 222.1 L680.9 218.3 L681.6 214.4 L682.4 210.5 L683.2 206.6 L683.9 202.7 L684.7 198.8 L685.5 194.8 L686.2 190.7 L687.0 186.7 L687.8 182.5 L688.5 178.4 L689.3 174.3 L690.1 170.2 L690.8 166.0 L691.6 161.9 L692.4 157.9 L693.1 154.1 L693.9 150.5 L694.7 147.1 L695.4 144.0 L696.2 140.9 L697.0 137.9 L697.7 134.9 L698.5 131.8 L699.3 128.6 L700.1 125.4 L700.8 122.3 L701.6 119.3 L702.4 116.4 L703.1 113.9 L703.9 111.5 L704.7 109.4 L705.4 107.5 L706.2 105.8 L707.0 104.5 L707.7 103.3 L708.5 102.5 L709.3 102.2 L710.0 102.3 L710.8 102.7 L711.6 103.5 L712.3 104.7 L713.1 106.5 L713.9 109.0 L714.6 112.0 L715.4 115.4 L716.2 119.1 L716.9 123.1 L717.7 127.6 L718.5 132.6 L719.3 138.3 L720.0 144.7 L720.8 151.8 L721.6 159.5 L722.3 167.3 L723.1 174.6 L723.9 181.5 L724.6 188.4 L725.4 195.8 L726.2 203.7 L726.9 212.1 L727.7 220.5 L728.5 228.8 L729.2 237.1 L730.0 245.3 L730.8 253.3 L731.5 261.3 L732.3 269.1 L733.1 276.6 L733.8 283.8 L734.6 290.6 L735.4 297.1 L736.1 303.2 L736.9 308.9 L737.7 314.3 L738.5 319.2 L739.2 323.8 L740.0 328.2 L740.8 332.2 L741.5 336.0 L742.3 339.6 L743.1 343.0 L743.8 346.1 L744.6 349.0 L745.4 351.7 L746.1 353.9 L746.9 355.9 L747.7 357.5 L748.4 358.8 L749.2 360.1 L750.0 361.3 L750.7 362.4 L751.5 363.6 L752.3 364.8 L753.0 365.9 L753.8 367.0 L754.6 368.0 L755.3 368.9 L756.1 369.7 L756.9 370.4 L757.7 371.1 L758.4 371.7 L759.2 372.4 L760.0 372.9 L760.7 373.5 L761.5 374.0 L762.3 374.5 L763.0 375.0 L763.8 375.4 L764.6 375.9 L765.3 376.3 L766.1 376.8 L766.9 377.2 L767.6 377.6 L768.4 378.0 L769.2 378.3 L769.9 378.7 L770.7 379.0 L771.5 379.4 L772.2 379.7 L773.0 379.9 L773.8 380.2 L774.5 380.5 L775.3 380.7 L776.1 381.0 L776.9 381.2 L777.6 381.4 L778.4 381.7 L779.2 381.9 L779.9 382.1 L780.7 382.3 L781.5 382.4 L782.2 382.6 L783.0 382.8 L783.8 382.9 L784.5 383.0 L785.3 383.2 L786.1 383.3 L786.8 383.4 L787.6 383.6 L788.4 383.7 L789.1 383.8 L789.9 383.9 L790.7 384.0 L791.4 384.1 L792.2 384.2 L793.0 384.3 L793.7 384.4 L794.5 384.4 L795.3 384.5 L796.1 384.6 L796.8 384.7 L797.6 384.8 L798.4 384.9 L799.1 384.9 L799.9 385.0 L800.7 385.1 L801.4 385.2 L802.2 385.2 L803.0 385.3 L803.7 385.4 L804.5 385.4 L805.3 385.5 L806.0 385.6 L806.8 385.6 L807.6 385.7 L808.3 385.7 L809.1 385.8 L809.9 385.8 L810.6 385.9 L811.4 385.9 L812.2 386.0 L812.9 386.0 L813.7 386.1 L814.5 386.1 L815.3 386.1 L816.0 386.2 L816.8 386.2 L817.6 386.3 L818.3 386.3 L819.1 386.3 L819.9 386.4 L820.6 386.4 L821.4 386.4 L822.2 386.5 L822.9 386.5 L823.7 386.5 L825.6 386.5"/>
<path stroke="#1a1af2" d="M516.5 215.4 L517.3 221.1 L518.0 226.9 L518.8 232.6 L519.6 238.5 L520.3 244.4 L521.1 250.4 L521.9 256.1 L522.6 261.4 L523.4 266.1 L524.2 270.3 L524.9 274.2 L525.7 278.1 L526.5 282.0 L527.3 286.1 L528.0 290.1 L528.8 293.8 L529.6 296.8 L530.3 298.9 L531.1 300.0 L531.9 300.5 L532.6 300.7 L533.4 300.8 L534.2 300.9 L534.9 301.1 L535.7 301.4 L536.5 302.0 L537.2 302.9 L538.0 304.1 L538.8 305.3 L539.5 306.5 L540.3 307.5 L541.1 308.6 L541.8 309.5 L542.6 310.3 L543.4 310.7 L544.1 310.5 L544.9 309.6 L545.7 308.0 L546.5 305.9 L547.2 303.7 L548.0 301.4 L548.8 299.1 L549.5 296.5 L550.3 293.7 L551.1 290.5 L551.8 286.9 L552.6 282.8 L553.4 278.6 L554.1 274.4 L554.9 270.4 L555.7 266.6 L556.4 262.9 L557.2 259.5 L558.0 256.3 L558.7 253.4 L559.5 250.7 L560.3 248.1 L561.0 245.7 L561.8 243.5 L562.6 241.8 L563.3 240.8 L564.1 240.7 L564.9 241.9 L565.7 244.3 L566.4 248.0 L567.2 253.0 L568.0 259.3 L568.7 266.2 L569.5 273.6 L570.3 281.1 L571.0 288.8 L571.8 296.9 L572.6 305.2 L573.3 313.2 L574.1 320.3 L574.9 326.3 L575.6 331.3 L576.4 335.4 L577.2 338.9 L577.9 341.9 L578.7 344.2 L579.5 346.0 L580.2 347.3 L581.0 348.3 L581.8 349.2 L582.5 349.9 L583.3 350.5 L584.1 350.9 L584.9 351.2 L585.6 351.2 L586.4 351.2 L587.2 351.0 L587.9 350.7 L588.7 350.4 L589.5 350.1 L590.2 349.8 L591.0 349.5 L591.8 349.2 L592.5 349.0 L593.3 348.8 L594.1 348.6 L594.8 348.4 L595.6 348.3 L596.4 348.2 L597.1 348.1 L597.9 348.2 L598.7 348.5 L599.4 349.3 L600.2 350.5 L601.0 351.9 L601.7 353.5 L602.5 355.2 L603.3 357.0 L604.1 358.8 L604.8 360.7 L605.6 362.6 L606.4 364.2 L607.1 365.7 L607.9 367.1 L608.7 368.3 L609.4 369.3 L610.2 370.2 L611.0 370.9 L611.7 371.5 L612.5 372.0 L613.3 372.4 L614.0 372.6 L614.8 372.7 L615.6 372.7 L616.3 372.7 L617.1 372.6 L617.9 372.5 L618.6 372.3 L619.4 372.0 L620.2 371.6 L620.9 371.0 L621.7 370.5 L622.5 369.9 L623.3 369.3 L624.0 368.7 L624.8 368.1 L625.6 367.4 L626.3 366.7 L627.1 366.0 L627.9 365.2 L628.6 364.4 L629.4 363.5 L630.2 362.6 L630.9 361.7 L631.7 360.6 L632.5 359.5 L633.2 358.3 L634.0 357.1 L634.8 355.8 L635.5 354.4 L636.3 352.9 L637.1 351.4 L637.8 349.9 L638.6 348.3 L639.4 346.7 L640.1 345.0 L640.9 343.3 L641.7 341.5 L642.5 339.6 L643.2 337.6 L644.0 335.6 L644.8 333.5 L645.5 331.3 L646.3 329.0 L647.1 326.8 L647.8 324.5 L648.6 322.1 L649.4 319.8 L650.1 317.4 L650.9 315.0 L651.7 312.6 L652.4 310.0 L653.2 307.4 L654.0 304.8 L654.7 302.1 L655.5 299.4 L656.3 296.6 L657.0 293.9 L657.8 291.2 L658.6 288.6 L659.3 286.0 L660.1 283.6 L660.9 281.2 L661.7 279.0 L662.4 276.9 L663.2 274.8 L664.0 272.9 L664.7 270.9 L665.5 268.8 L666.3 266.7 L667.0 264.4 L667.8 262.0 L668.6 259.5 L669.3 257.1 L670.1 254.8 L670.9 252.6 L671.6 250.5 L672.4 248.4 L673.2 246.4 L673.9 244.3 L674.7 242.3 L675.5 240.3 L676.2 238.4 L677.0 236.6 L677.8 234.8 L678.5 233.3 L679.3 231.8 L680.1 230.4 L680.9 229.1 L681.6 227.8 L682.4 226.5 L683.2 225.0 L683.9 223.5 L684.7 221.9 L685.5 220.2 L686.2 218.4 L687.0 216.5 L687.8 214.6 L688.5 212.6 L689.3 210.5 L690.1 208.4 L690.8 206.2 L691.6 204.0 L692.4 201.9 L693.1 199.8 L693.9 197.8 L694.7 195.8 L695.4 193.5 L696.2 191.0 L697.0 188.2 L697.7 185.3 L698.5 182.1 L699.3 178.9 L700.1 175.8 L700.8 172.7 L701.6 169.7 L702.4 166.7 L703.1 163.8 L703.9 160.9 L704.7 158.1 L705.4 155.6 L706.2 153.5 L707.0 151.8 L707.7 150.4 L708.5 149.2 L709.3 148.3 L710.0 147.6 L710.8 147.0 L711.6 146.7 L712.3 146.5 L713.1 146.5 L713.9 146.8 L714.6 147.5 L715.4 148.4 L716.2 149.5 L716.9 151.1 L717.7 153.0 L718.5 155.4 L719.3 158.3 L720.0 161.5 L720.8 165.0 L721.6 168.8 L722.3 172.9 L723.1 177.3 L723.9 181.9 L724.6 186.6 L725.4 191.2 L726.2 195.6 L726.9 199.9 L727.7 204.5 L728.5 209.6 L729.2 215.2 L730.0 221.1 L730.8 226.8 L731.5 232.3 L732.3 237.4 L733.1 242.3 L733.8 247.1 L734.6 252.2 L735.4 257.8 L736.1 263.8 L736.9 269.9 L737.7 275.7 L738.5 280.9 L739.2 285.6 L740.0 289.7 L740.8 293.4 L741.5 296.8 L742.3 300.1 L743.1 303.3 L743.8 306.5 L744.6 309.7 L745.4 313.1 L746.1 316.5 L746.9 319.9 L747.7 323.1 L748.4 326.2 L749.2 328.9 L750.0 331.3 L750.7 333.5 L751.5 335.6 L752.3 337.6 L753.0 339.5 L753.8 341.5 L754.6 343.5 L755.3 345.5 L756.1 347.5 L756.9 349.5 L757.7 351.4 L758.4 353.3 L759.2 355.2 L760.0 357.0 L760.7 358.7 L761.5 360.3 L762.3 361.9 L763.0 363.4 L763.8 364.8 L764.6 366.1 L765.3 367.4 L766.1 368.6 L766.9 369.6 L767.6 370.6 L768.4 371.5 L769.2 372.3 L769.9 373.1 L770.7 373.8 L771.5 374.5 L772.2 375.2 L773.0 375.8 L773.8 376.4 L774.5 377.0 L775.3 377.5 L776.1 378.0 L776.9 378.5 L777.6 379.0 L778.4 379.4 L779.2 379.8 L779.9 380.1 L780.7 380.4 L781.5 380.7 L782.2 381.0 L783.0 381.3 L783.8 381.5 L784.5 381.8 L785.3 382.0 L786.1 382.2 L786.8 382.4 L787.6 382.6 L788.4 382.8 L789.1 383.0 L789.9 383.2 L790.7 383.3 L791.4 383.5 L792.2 383.6 L793.0 383.7 L793.7 383.9 L794.5 384.0 L795.3 384.1 L796.1 384.2 L796.8 384.3 L797.6 384.4 L798.4 384.5 L799.1 384.6 L799.9 384.6 L800.7 384.7 L801.4 384.8 L802.2 384.9 L803.0 384.9 L803.7 385.0 L804.5 385.1 L805.3 385.1 L806.0 385.2 L806.8 385.2 L807.6 385.3 L808.3 385.3 L809.1 385.4 L809.9 385.4 L810.6 385.5 L811.4 385.5 L812.2 385.6 L812.9 385.6 L813.7 385.7 L814.5 385.7 L815.3 385.8 L816.0 385.8 L816.8 385.8 L817.6 385.9 L818.3 385.9 L819.1 385.9 L819.9 386.0 L820.6 386.0 L821.4 386.0 L822.2 386.1 L822.9 386.1 L823.7 386.1 L825.6 386.1"/>
</g>
<rect x="62.5" y="28.5" width="122.0" height="184.0" fill="#fff" stroke="#8a8a8a"/>
<line x1="82.5" y1="212.5" x2="82.5" y2="209.5" stroke="#8a8a8a"/>
<line x1="82.5" y1="28.5" x2="82.5" y2="31.5" stroke="#8a8a8a"/>
<line x1="103.5" y1="212.5" x2="103.5" y2="209.5" stroke="#8a8a8a"/>
<line x1="103.5" y1="28.5" x2="103.5" y2="31.5" stroke="#8a8a8a"/>
<line x1="123.5" y1="212.5" x2="123.5" y2="209.5" stroke="#8a8a8a"/>
<line x1="123.5" y1="28.5" x2="123.5" y2="31.5" stroke="#8a8a8a"/>
<line x1="143.5" y1="212.5" x2="143.5" y2="209.5" stroke="#8a8a8a"/>
<line x1="143.5" y1="28.5" x2="143.5" y2="31.5" stroke="#8a8a8a"/>
<line x1="164.5" y1="212.5" x2="164.5" y2="209.5" stroke="#8a8a8a"/>
<line x1="164.5" y1="28.5" x2="164.5" y2="31.5" stroke="#8a8a8a"/>
<line x1="62.5" y1="151.5" x2="65.5" y2="151.5" stroke="#8a8a8a"/>
<line x1="184.5" y1="151.5" x2="181.5" y2="151.5" stroke="#8a8a8a"/>
<line x1="62.5" y1="89.5" x2="65.5" y2="89.5" stroke="#8a8a8a"/>
<line x1="184.5" y1="89.5" x2="181.5" y2="89.5" stroke="#8a8a8a"/>
<path d="M61.5 34.8 L62.1 36.8 L62.7 39.1 L63.3 41.5 L64.0 44.1 L64.6 46.8 L65.2 49.5 L65.8 52.2 L66.4 55.0 L67.0 57.7 L67.7 60.4 L68.3 63.1 L68.9 65.8 L69.5 68.4 L70.1 71.0 L70.7 73.5 L71.3 76.0 L72.0 78.5 L72.6 80.9 L73.2 83.2 L73.8 85.5 L74.4 87.8 L75.0 90.0 L75.6 92.2 L76.3 94.3 L76.9 96.4 L77.5 98.4 L78.1 100.4 L78.7 102.4 L79.3 104.3 L80.0 106.2 L80.6 108.0 L81.2 109.8 L81.8 111.6 L82.4 113.3 L83.0 115.0 L83.6 116.6 L84.3 118.2 L84.9 119.8 L85.5 121.4 L86.1 122.9 L86.7 124.4 L87.3 125.8 L87.9 127.3 L88.6 128.6 L89.2 130.0 L89.8 131.3 L90.4 132.7 L91.0 133.9 L91.6 135.2 L92.3 136.4 L92.9 137.6 L93.5 138.8 L94.1 139.9 L94.7 141.1 L95.3 142.2 L95.9 143.2 L96.6 144.3 L97.2 145.3 L97.8 146.4 L98.4 147.3 L99.0 148.3 L99.6 149.3 L100.2 150.2 L100.9 151.1 L101.5 152.0 L102.1 152.9 L102.7 153.7 L103.3 154.6 L103.9 155.4 L104.6 156.2 L105.2 157.0 L105.8 157.7 L106.4 158.5 L107.0 159.2 L107.6 159.9 L108.2 160.7 L108.9 161.3 L109.5 162.0 L110.1 162.7 L110.7 163.3 L111.3 164.0 L111.9 164.6 L112.6 165.2 L113.2 165.8 L113.8 166.4 L114.4 166.9 L115.0 167.5 L115.6 168.1 L116.2 168.6 L116.9 169.1 L117.5 169.6 L118.1 170.1 L118.7 170.6 L119.3 171.1 L119.9 171.6 L120.5 172.0 L121.2 172.5 L121.8 172.9 L122.4 173.4 L123.0 173.8 L123.6 174.2 L124.2 174.6 L124.9 175.0 L125.5 175.4 L126.1 175.8 L126.7 176.1 L127.3 176.5 L127.9 176.9 L128.5 177.2 L129.2 177.6 L129.8 177.9 L130.4 178.2 L131.0 178.5 L131.6 178.9 L132.2 179.2 L132.8 179.5 L133.5 179.8 L134.1 180.1 L134.7 180.3 L135.3 180.6 L135.9 180.9 L136.5 181.2 L137.2 181.4 L137.8 181.7 L138.4 181.9 L139.0 182.2 L139.6 182.4 L140.2 182.6 L140.8 182.9 L141.5 183.1 L142.1 183.3 L142.7 183.5 L143.3 183.7 L143.9 183.9 L144.5 184.1 L145.2 184.3 L145.8 184.5 L146.4 184.7 L147.0 184.9 L147.6 185.1 L148.2 185.3 L148.8 185.4 L149.5 185.6 L150.1 185.8 L150.7 185.9 L151.3 186.1 L151.9 186.3 L152.5 186.4 L153.1 186.6 L153.8 186.7 L154.4 186.8 L155.0 187.0 L155.6 187.1 L156.2 187.3 L156.8 187.4 L157.5 187.5 L158.1 187.6 L158.7 187.8 L159.3 187.9 L159.9 188.0 L160.5 188.1 L161.1 188.2 L161.8 188.3 L162.4 188.5 L163.0 188.6 L163.6 188.7 L164.2 188.8 L164.8 188.9 L165.4 189.0 L166.1 189.1 L166.7 189.2 L167.3 189.2 L167.9 189.3 L168.5 189.4 L169.1 189.5 L169.8 189.6 L170.4 189.7 L171.0 189.8 L171.6 189.8 L172.2 189.9 L172.8 190.0 L173.4 190.1 L174.1 190.1 L174.7 190.2 L175.3 190.3 L175.9 190.3 L176.5 190.4 L177.1 190.5 L177.7 190.5 L178.4 190.6 L179.0 190.7 L179.6 190.7 L180.2 190.8 L180.8 190.8 L181.4 190.9 L182.1 191.0 L182.7 191.0 L183.3 191.1 L183.9 191.1" fill="none" stroke="#e00" stroke-width="0.8"/>
<g fill="#000"><circle cx="62.80" cy="39.10" r="2.1"/><circle cx="64.30" cy="46.20" r="2.1"/><circle cx="65.40" cy="50.90" r="2.1"/><circle cx="66.50" cy="54.60" r="2.1"/><circle cx="67.50" cy="59.40" r="2.1"/><circle cx="69.90" cy="68.40" r="2.1"/><circle cx="70.70" cy="73.70" r="2.1"/><circle cx="71.50" cy="77.40" r="2.1"/><circle cx="72.60" cy="81.10" r="2.1"/><circle cx="73.70" cy="85.90" r="2.1"/><circle cx="74.40" cy="89.00" r="2.1"/><circle cx="74.4" cy="87.7" r="2.1"/><circle cx="75.3" cy="91.0" r="2.1"/><circle cx="76.2" cy="94.1" r="2.1"/><circle cx="77.1" cy="97.1" r="2.1"/><circle cx="78.0" cy="100.1" r="2.1"/><circle cx="78.9" cy="102.9" r="2.1"/><circle cx="79.8" cy="105.7" r="2.1"/><circle cx="80.7" cy="108.4" r="2.1"/><circle cx="81.6" cy="111.0" r="2.1"/><circle cx="82.5" cy="113.5" r="2.1"/><circle cx="83.4" cy="116.0" r="2.1"/><circle cx="84.3" cy="118.3" r="2.1"/><circle cx="85.2" cy="120.7" r="2.1"/><circle cx="86.1" cy="122.9" r="2.1"/><circle cx="87.0" cy="125.0" r="2.1"/><circle cx="87.9" cy="127.1" r="2.1"/><circle cx="88.8" cy="129.2" r="2.1"/><circle cx="89.7" cy="131.1" r="2.1"/><circle cx="90.6" cy="133.1" r="2.1"/><circle cx="91.5" cy="134.9" r="2.1"/><circle cx="92.4" cy="136.7" r="2.1"/><circle cx="93.3" cy="138.4" r="2.1"/><circle cx="94.2" cy="140.1" r="2.1"/><circle cx="95.1" cy="141.8" r="2.1"/><circle cx="96.0" cy="143.3" r="2.1"/><circle cx="96.9" cy="144.9" r="2.1"/><circle cx="97.8" cy="146.4" r="2.1"/><circle cx="98.7" cy="147.8" r="2.1"/><circle cx="99.6" cy="149.2" r="2.1"/><circle cx="100.5" cy="150.6" r="2.1"/><circle cx="101.4" cy="151.9" r="2.1"/><circle cx="102.3" cy="153.2" r="2.1"/><circle cx="103.2" cy="154.4" r="2.1"/><circle cx="104.1" cy="155.6" r="2.1"/><circle cx="105.0" cy="156.8" r="2.1"/><circle cx="105.9" cy="157.9" r="2.1"/><circle cx="106.8" cy="159.0" r="2.1"/><circle cx="107.7" cy="160.0" r="2.1"/><circle cx="108.6" cy="161.1" r="2.1"/><circle cx="109.5" cy="162.0" r="2.1"/><circle cx="110.4" cy="163.0" r="2.1"/><circle cx="111.3" cy="163.9" r="2.1"/><circle cx="112.2" cy="164.8" r="2.1"/><circle cx="113.1" cy="165.7" r="2.1"/><circle cx="114.0" cy="166.6" r="2.1"/><circle cx="114.9" cy="167.4" r="2.1"/><circle cx="115.8" cy="168.2" r="2.1"/><circle cx="116.7" cy="169.0" r="2.1"/><circle cx="117.6" cy="169.7" r="2.1"/><circle cx="118.5" cy="170.5" r="2.1"/><circle cx="119.4" cy="171.2" r="2.1"/><circle cx="120.3" cy="171.8" r="2.1"/><circle cx="121.2" cy="172.5" r="2.1"/><circle cx="122.1" cy="173.2" r="2.1"/><circle cx="123.0" cy="173.8" r="2.1"/><circle cx="123.9" cy="174.4" r="2.1"/><circle cx="124.8" cy="175.0" r="2.1"/><circle cx="125.7" cy="175.5" r="2.1"/><circle cx="126.6" cy="176.1" r="2.1"/><circle cx="127.5" cy="176.6" r="2.1"/><circle cx="128.4" cy="177.1" r="2.1"/><circle cx="129.3" cy="177.6" r="2.1"/><circle cx="130.2" cy="178.1" r="2.1"/><circle cx="131.1" cy="178.6" r="2.1"/><circle cx="132.0" cy="179.1" r="2.1"/><circle cx="132.9" cy="179.5" r="2.1"/><circle cx="133.8" cy="179.9" r="2.1"/><circle cx="134.7" cy="180.3" r="2.1"/><circle cx="135.6" cy="180.7" r="2.1"/><circle cx="136.5" cy="181.1" r="2.1"/><circle cx="137.4" cy="181.5" r="2.1"/><circle cx="138.3" cy="181.9" r="2.1"/><circle cx="139.2" cy="182.2" r="2.1"/><circle cx="140.1" cy="182.6" r="2.1"/><circle cx="141.0" cy="182.9" r="2.1"/><circle cx="141.9" cy="183.2" r="2.1"/><circle cx="142.8" cy="183.6" r="2.1"/><circle cx="143.7" cy="183.9" r="2.1"/><circle cx="144.6" cy="184.2" r="2.1"/><circle cx="145.5" cy="184.4" r="2.1"/><circle cx="146.4" cy="184.7" r="2.1"/><circle cx="147.3" cy="185.0" r="2.1"/><circle cx="148.2" cy="185.3" r="2.1"/><circle cx="149.1" cy="185.5" r="2.1"/><circle cx="150.0" cy="185.8" r="2.1"/><circle cx="150.9" cy="186.0" r="2.1"/><circle cx="151.8" cy="186.2" r="2.1"/><circle cx="152.7" cy="186.4" r="2.1"/><circle cx="153.6" cy="186.7" r="2.1"/><circle cx="154.5" cy="186.9" r="2.1"/><circle cx="155.4" cy="187.1" r="2.1"/><circle cx="156.3" cy="187.3" r="2.1"/><circle cx="157.2" cy="187.5" r="2.1"/><circle cx="158.1" cy="187.6" r="2.1"/><circle cx="159.0" cy="187.8" r="2.1"/><circle cx="159.9" cy="188.0" r="2.1"/><circle cx="160.8" cy="188.2" r="2.1"/><circle cx="161.7" cy="188.3" r="2.1"/><circle cx="162.6" cy="188.5" r="2.1"/><circle cx="163.5" cy="188.6" r="2.1"/><circle cx="164.4" cy="188.8" r="2.1"/><circle cx="165.3" cy="188.9" r="2.1"/><circle cx="166.2" cy="189.1" r="2.1"/><circle cx="167.1" cy="189.2" r="2.1"/><circle cx="168.0" cy="189.4" r="2.1"/><circle cx="168.9" cy="189.5" r="2.1"/><circle cx="169.8" cy="189.6" r="2.1"/><circle cx="170.7" cy="189.7" r="2.1"/><circle cx="171.6" cy="189.8" r="2.1"/><circle cx="172.5" cy="190.0" r="2.1"/><circle cx="173.4" cy="190.1" r="2.1"/><circle cx="174.3" cy="190.2" r="2.1"/><circle cx="175.2" cy="190.3" r="2.1"/><circle cx="176.1" cy="190.4" r="2.1"/><circle cx="177.0" cy="190.5" r="2.1"/><circle cx="177.9" cy="190.6" r="2.1"/><circle cx="178.8" cy="190.6" r="2.1"/><circle cx="179.7" cy="190.7" r="2.1"/><circle cx="180.6" cy="190.8" r="2.1"/><circle cx="181.5" cy="190.9" r="2.1"/><circle cx="182.4" cy="191.0" r="2.1"/><circle cx="183.3" cy="191.1" r="2.1"/></g>
<!-- left chart text -->
<g font-size="19">
<text x="26.2" y="87" text-anchor="end">0.8</text>
<text x="26.2" y="241" text-anchor="end">0.4</text>
<text x="26.5" y="395.6" text-anchor="end">0</text>
<text x="56.9" y="411.6" text-anchor="middle">250</text>
<text x="133.7" y="411.6" text-anchor="middle">350</text>
<text x="210.5" y="411.6" text-anchor="middle">450</text>
<text x="287.3" y="411.6" text-anchor="middle">550</text>
</g>
<text x="0.4" y="168.6" font-size="24.5">A</text>
<text x="86.6" y="447" font-size="25.7">Wavelength (nm)</text>
<text class="sf" x="179.3" y="520.7" font-size="40" text-anchor="middle">(a)</text>
<!-- inset text -->
<g font-size="10.5" transform="translate(0,0)">
<text transform="translate(59.5,29.5) scale(0.82,1)" text-anchor="end">0.75</text>
<text transform="translate(59.5,214.2) scale(0.82,1)" text-anchor="end">0.6</text>
<text transform="translate(62.2,223.6) scale(0.82,1)" text-anchor="middle">0</text>
<text transform="translate(102.7,223.6) scale(0.82,1)" text-anchor="middle">200</text>
<text transform="translate(143.1,223.6) scale(0.82,1)" text-anchor="middle">400</text>
<text transform="translate(183.5,223.6) scale(0.82,1)" text-anchor="middle">600</text>
</g>
<text transform="translate(100.3,242.1) scale(0.83,1)" font-size="11.8">Time (min)</text>
<text transform="translate(54.6,104.2) scale(0.84,1) rotate(-90)" font-size="12.1">A (471 nm)</text>
<text x="72.3" y="60.4" font-size="19" font-style="italic">k</text>
<text x="81" y="71.3" font-size="12.7">obs</text>
<text x="101.9" y="60.5" font-size="19.1">=1.2x10</text>
<text x="170.8" y="49.0" font-size="11.8">-4</text>
<text x="187.4" y="60.5" font-size="19.1">s</text>
<text x="196.5" y="48.2" font-size="11.5">-1</text>
<!-- right chart text -->
<g font-size="19">
<text x="509.8" y="79.8" text-anchor="end" font-size="19.6">0.8</text>
<text x="509.3" y="235.2" text-anchor="end" font-size="19.2">0.4</text>
<text x="510.2" y="388.8" text-anchor="end">0</text>
<text x="539.4" y="405.5" text-anchor="middle">250</text>
<text x="616.2" y="405.5" text-anchor="middle">350</text>
<text x="693" y="405.5" text-anchor="middle">450</text>
<text x="769.8" y="405.5" text-anchor="middle">550</text>
</g>
<text x="487.2" y="183" font-size="24.5">A</text>
<text x="574" y="436.7" font-size="25.7">Wavelength (nm)</text>
<text class="sf" x="665.5" y="520.7" font-size="40" text-anchor="middle">(b)</text>
<text x="688" y="91.7" font-size="18.7" style="fill:#ee0000;stroke:#ee0000">Isomer</text>
<text x="746.2" y="103.3" font-size="11.5" style="fill:#ee0000;stroke:#ee0000">6</text>
<text x="584.5" y="131.2" font-size="18.7" style="fill:#1a1af2;stroke:#1a1af2">Equilibrium</text>
<text x="745.7" y="232.7" font-size="18.7">Isomer</text>
<text x="804" y="244.6" font-size="11.5">8</text>
<!-- arrows -->
<line x1="672.4" y1="133.8" x2="698" y2="141.5" stroke="#1a1af2" stroke-width="3" stroke-linecap="round"/>
<polygon points="698.5,136.2 695.2,146.5 710.3,145.3" fill="#1a1af2"/>
<line x1="766.5" y1="241.6" x2="755.5" y2="263" stroke="#000" stroke-width="2.8"/>
<polygon points="750.4,261.5 761,266.2 748.3,277.6" fill="#000"/>
</svg>
</body></html>
